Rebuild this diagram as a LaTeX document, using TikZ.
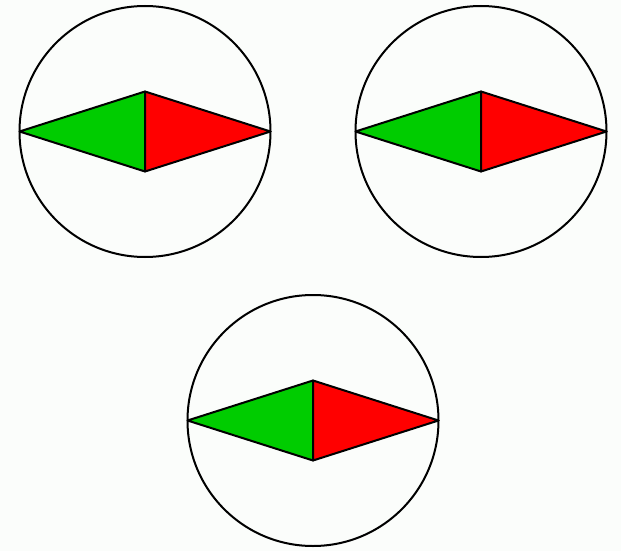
\documentclass[tikz,border=0pt]{standalone}
\definecolor{bg}{HTML}{FBFDFB}
\definecolor{leafgreen}{HTML}{00CC00}
\definecolor{leafred}{HTML}{FF0000}
\tikzset{
  ring/.style={draw=black, line width=2pt},
  half/.style={draw=black, line width=2pt, line join=round},
}
\newcommand{\eyeshape}[2]{%
  \draw[ring] (#1,#2) circle (125.5);
  \coordinate (L) at ({#1-125.5},#2);
  \coordinate (R) at ({#1+125.5},#2);
  \coordinate (T) at (#1,{#2-40});
  \coordinate (B) at (#1,{#2+40});
  \filldraw[half, fill=leafgreen] (L) -- (T) -- (B) -- cycle;
  \filldraw[half, fill=leafred] (R) -- (T) -- (B) -- cycle;
}
\begin{document}
\begin{tikzpicture}[x=1pt,y=-1pt]
  \fill[bg] (0,0) rectangle (621,551);
  \useasboundingbox (0,0) rectangle (621,551);
  \eyeshape{145}{131.5}
  \eyeshape{481}{131.5}
  \eyeshape{313}{420.5}
\end{tikzpicture}
\end{document}
